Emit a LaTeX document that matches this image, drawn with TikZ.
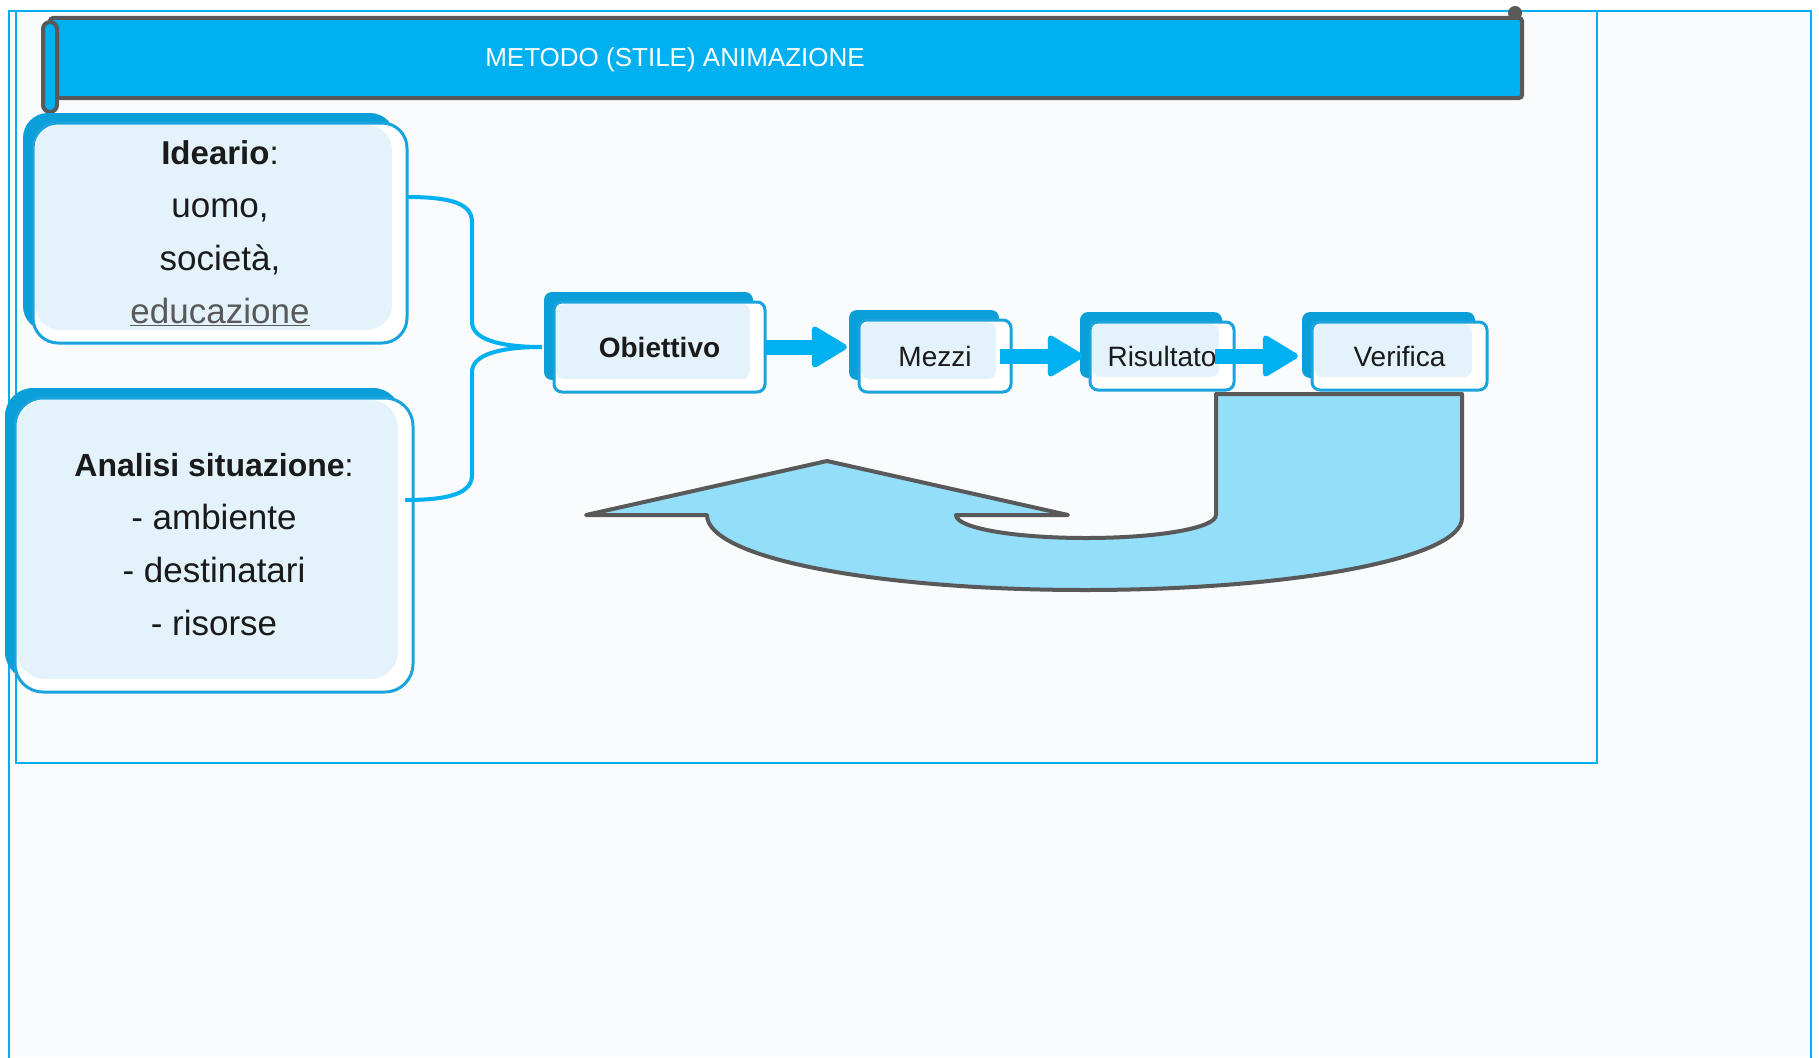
\documentclass[tikz,border=0pt]{standalone}
\usepackage{fontspec}
\setmainfont{Liberation Sans}
\usepackage{tikz}
\usetikzlibrary{arrows.meta}
\definecolor{cyanbar}{RGB}{0,176,240}
\definecolor{backblue}{RGB}{10,159,216}
\definecolor{boxline}{RGB}{27,163,221}
\definecolor{lightfill}{RGB}{228,243,251}
\definecolor{turnfill}{RGB}{147,222,249}
\definecolor{darkgray}{RGB}{89,89,89}
\definecolor{paper}{RGB}{249,251,253}
\definecolor{ink}{RGB}{26,26,26}
\tikzset{
  graffa/.style={draw=cyanbar, line width=4pt},
  freccia/.style={draw=cyanbar, line width=15pt,
    -{Triangle[length=38pt 0 0, width=44pt 0 0, line width=6pt 0 0, round]}},
  ritorno/.style={fill=turnfill, draw=darkgray, line width=4pt, line join=round}
}
% box with the blue shadow behind: name, x1, y1, x2, y2, radius, font, text
\newcommand\dbox[8]{
  \fill[backblue, rounded corners=#6] (#2-10,#3-10) rectangle (#4-12,#5-12);
  \filldraw[fill=white, draw=boxline, line width=3pt, rounded corners=#6] (#2,#3) rectangle (#4,#5);
  \fill[lightfill, rounded corners=#6] (#2+2,#3+2) rectangle (#4-15,#5-13);
  \node[inner sep=0pt, minimum width={(#4-#2)*1pt}, minimum height={(#5-#3)*1pt},
        align=center, text=ink, font=#7] (#1) at ({(#2+#4)/2},{(#3+#5)/2}) {#8};
}

\begin{document}
\begin{tikzpicture}[x=1pt, y=-1pt]
\useasboundingbox (0,0) rectangle (1819,1057);
\fill[paper] (9,11) rectangle (1811,1057);
\draw[cyanbar, line width=2pt] (9,1060) -- (9,11) -- (1811,11) -- (1811,1060);
\draw[cyanbar, line width=2pt] (16,11) rectangle (1597,763);

% title scroll
\filldraw[fill=cyanbar, draw=darkgray, line width=4pt, rounded corners=3pt] (50,18) rectangle (1522,98);
\filldraw[fill=cyanbar, draw=darkgray, line width=4pt, rounded corners=7pt] (43,22) rectangle (57,112);
\fill[darkgray] (1515,13) circle (7);
\node[text=white, font=\fontsize{26}{30}\selectfont] (titolo) at (675,60) {METODO (STILE) ANIMAZIONE};

% return arrow
\filldraw[ritorno] (1216,394) -- (1216,515)
  .. controls (1216,528) and (1158,538) .. (1086,538)
  .. controls (1014,538) and (956,528) .. (956,515)
  -- (1068,515) -- (827,461) -- (586,515) -- (707,515)
  .. controls (707,558) and (876,590) .. (1085,590)
  .. controls (1294,590) and (1462,558) .. (1462,518)
  -- (1462,394) -- cycle;

\dbox{ideario}{33}{123}{407}{343}{25pt}{\fontsize{35}{53}\selectfont}{{\fontsize{33}{40}\selectfont\textbf{Ideario}:}\\
  uomo,\\ società,\\ {\color{darkgray}\underline{educazione}}}
\dbox{analisi}{15}{398}{413}{692}{28pt}{\fontsize{35}{53}\selectfont}{{\fontsize{32}{40}\selectfont\textbf{Analisi situazione}:}\\
  - ambiente\\ - destinatari\\ - risorse}
\dbox{obiettivo}{554}{302}{765}{392}{8pt}{\fontsize{28}{32}\selectfont}{\textbf{Obiettivo}}
\dbox{mezzi}{859}{320}{1011}{392}{8pt}{\fontsize{28}{32}\selectfont}{Mezzi}
\dbox{risultato}{1090}{322}{1234}{390}{8pt}{\fontsize{28}{32}\selectfont}{Risultato}
\dbox{verifica}{1312}{322}{1487}{390}{8pt}{\fontsize{28}{32}\selectfont}{Verifica}

\draw[graffa] ([yshift=36pt]ideario.east) .. controls +(45,0) and +(0,-18) .. (472,222)
  -- (472,322) .. controls +(0,18) and +(-40,0) .. ([xshift=-12pt]obiettivo.west)
  .. controls +(-40,0) and +(0,-18) .. (472,372)
  -- (472,475) .. controls +(0,18) and +(45,0) .. ([xshift=-8pt,yshift=45pt]analisi.east);

\draw[freccia, shorten >=12pt] (obiettivo.east) -- (obiettivo.east -| mezzi.west);
\draw[freccia, shorten <=-11pt, shorten >=7pt] (mezzi.east) -- (mezzi.east -| risultato.west);
\draw[freccia, shorten <=-19pt, shorten >=14pt] (risultato.east) -- (risultato.east -| verifica.west);
\end{tikzpicture}
\end{document}
